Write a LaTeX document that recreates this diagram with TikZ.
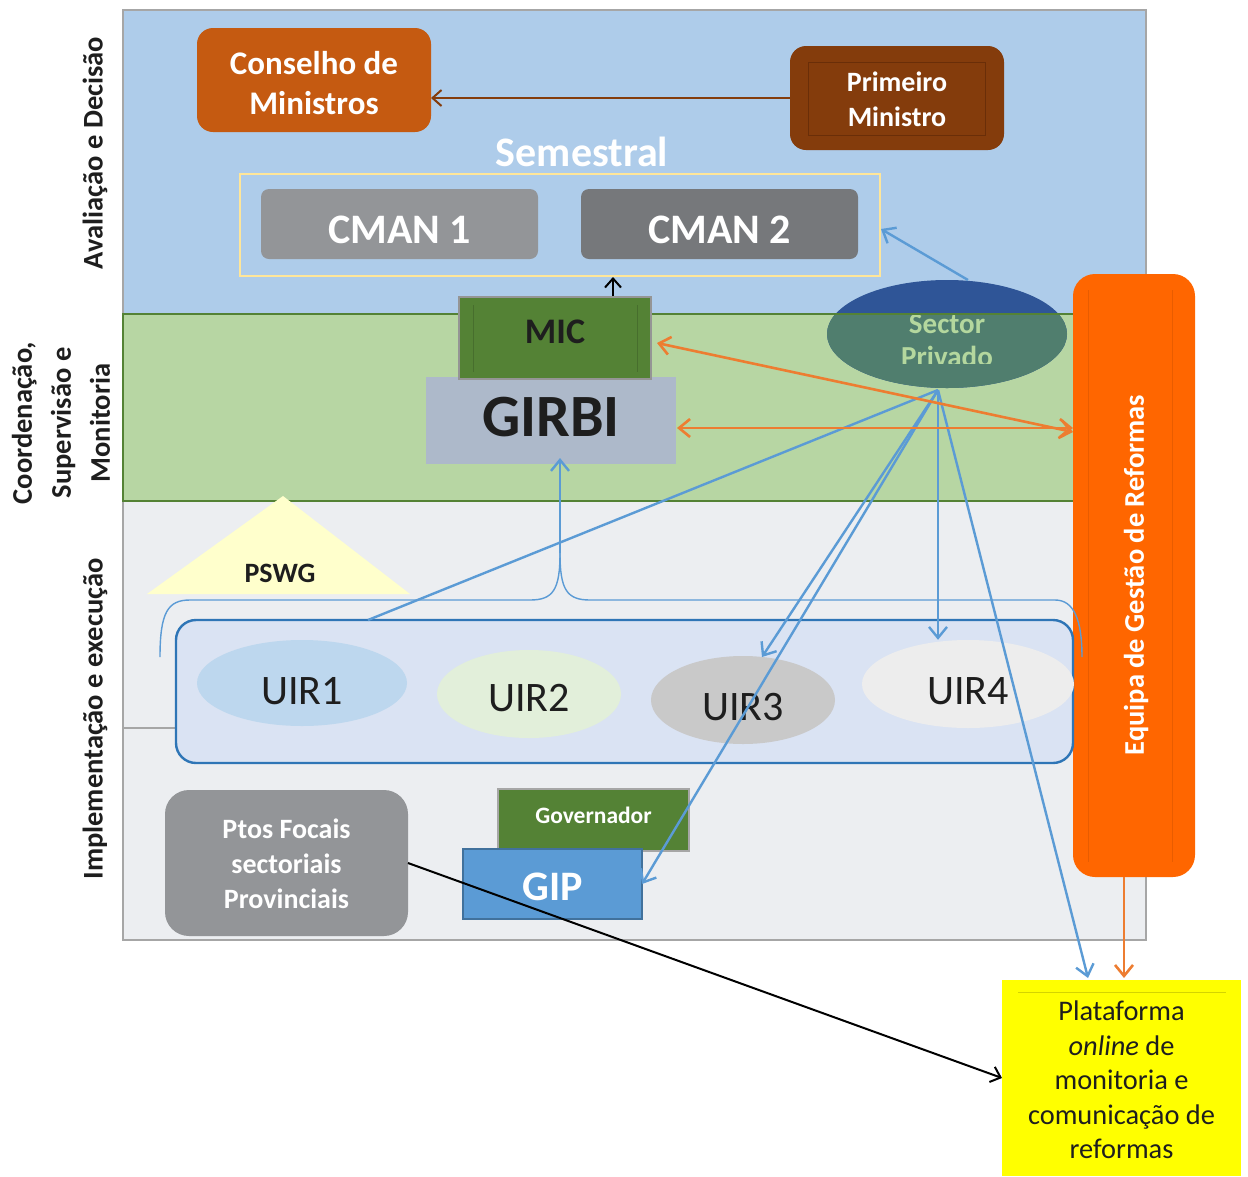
\documentclass[tikz,border=0pt]{standalone}
\usepackage{fontspec}
\setmainfont{Carlito}
\usetikzlibrary{shapes.geometric,arrows.meta}
\definecolor{bandblue}{HTML}{AECCEA}
\definecolor{bandgreen}{HTML}{B7D6A3}
\definecolor{bandgray}{HTML}{ECEEF1}
\definecolor{framegray}{HTML}{A6A6A6}
\definecolor{darkgreen}{HTML}{548235}
\definecolor{consorange}{HTML}{C55A11}
\definecolor{pmbrown}{HTML}{843C0C}
\definecolor{pminner}{HTML}{6A2E08}
\definecolor{cmanone}{HTML}{939598}
\definecolor{cmantwo}{HTML}{76787B}
\definecolor{boxyellow}{HTML}{FFE699}
\definecolor{girbigray}{HTML}{ADB9CA}
\definecolor{spblue}{HTML}{2F5597}
\definecolor{spgreen}{HTML}{507E6E}
\definecolor{sptext}{HTML}{B4D79E}
\definecolor{eqorange}{HTML}{FF6600}
\definecolor{eqline}{HTML}{E85C00}
\definecolor{arrorange}{HTML}{ED7D31}
\definecolor{arrblue}{HTML}{5B9BD5}
\definecolor{uirfill}{HTML}{DAE3F3}
\definecolor{uirborder}{HTML}{2E75B6}
\definecolor{uironefill}{HTML}{BDD7EE}
\definecolor{uirtwofill}{HTML}{E2EFDA}
\definecolor{uirthreefill}{HTML}{C9C9C9}
\definecolor{uirfourfill}{HTML}{EDEDED}
\definecolor{pswgfill}{HTML}{FFFFCC}
\definecolor{ptosgray}{HTML}{939598}
\definecolor{gipblue}{HTML}{5B9BD5}
\definecolor{gipborder}{HTML}{41719C}
\definecolor{platyellow}{HTML}{FFFF00}
\definecolor{platline}{HTML}{D4D400}
\definecolor{textdark}{HTML}{1E1E1E}
\tikzset{
  box/.style={inner sep=0pt, outer sep=0pt, align=center},
  wbold/.style 2 args={text=white, font=\bfseries\fontsize{#1}{#2}\selectfont},
  dbold/.style 2 args={text=textdark, font=\bfseries\fontsize{#1}{#2}\selectfont},
  dreg/.style 2 args={text=textdark, font=\fontsize{#1}{#2}\selectfont},
  bluearrow/.style={draw=arrblue, line width=2.4pt, -{Straight Barb[length=11pt,width=18pt]}},
  blueline/.style={draw=arrblue, line width=2.4pt},
  orangearrow/.style={draw=arrorange, line width=2.6pt, {Straight Barb[length=11pt,width=18pt]}-{Straight Barb[length=11pt,width=18pt]}},
  orangeone/.style={draw=arrorange, line width=2.6pt, -{Straight Barb[length=11pt,width=18pt]}},
  blackarrow/.style={draw=black, line width=2pt, -{Straight Barb[length=9pt,width=16pt]}},
  sidelabel/.style={rotate=90, align=center, text=textdark, font=\bfseries\fontsize{28.5}{39}\selectfont},
}
\begin{document}
\begin{tikzpicture}[x=1pt,y=-1pt]
\useasboundingbox (0,0) rectangle (1248,1176);
% bands
\fill[bandblue] (123,10) rectangle (1146,314);
\fill[bandgreen] (123,314) rectangle (1146,501);
\fill[bandgray] (123,501) rectangle (1146,940);
\draw[framegray, line width=2pt] (123,10) rectangle (1146,940);
\draw[darkgreen, line width=2.4pt] (123,314) rectangle (1146,501);
\draw[framegray, line width=2pt] (123,728) -- (176,728);

% side labels
\node[sidelabel] (lab1) at (95,153) {Avaliação e Decisão};
\node[sidelabel] (lab2) at (61,423) {Coordenação,\\Supervisão e\\Monitoria};
\node[sidelabel] (lab3) at (95,719) {Implementação e execução};

% top nodes
\node[box, fill=consorange, rounded corners=16pt, minimum width=234pt, minimum height=104pt] (cons) at (314,80) {};
\node[box, wbold={33}{40}] (conslabel) at (314,83) {Conselho de\\Ministros};
\node[box, fill=pmbrown, rounded corners=16pt, minimum width=214pt, minimum height=104pt] (pm) at (897,98) {};
\draw[pminner, line width=0.8pt] (808,62) rectangle (985,135);
\node[box, wbold={28}{35}] (pmlabel) at (897,99) {Primeiro\\Ministro};
\draw[draw=pmbrown, line width=2pt, -{Straight Barb[length=9pt,width=16pt]}] (pm.west) -- (cons.east |- pm.west);

\node[box, wbold={42}{48}] (sem) at (582,152) {Semestral};
\node[box, draw=boxyellow, line width=2pt, minimum width=640pt, minimum height=102pt] (cmanbox) at (560,225) {};
\node[box, fill=cmanone, rounded corners=8pt, minimum width=277pt, minimum height=70pt] (cman1) at (399.5,224) {};
\node[box, wbold={42}{48}] (cman1label) at (399.5,230) {CMAN 1};
\node[box, fill=cmantwo, rounded corners=8pt, minimum width=277pt, minimum height=70pt] (cman2) at (719.5,224) {};
\node[box, wbold={42}{48}] (cman2label) at (719.5,230) {CMAN 2};

% GIRBI / MIC
\node[box, fill=girbigray, minimum width=250pt, minimum height=87pt] (girbi) at (551,420.5) {};
\node[box, dbold={60}{66}] (girbilabel) at (551,417) {GIRBI};
\node[box, fill=darkgreen, draw=framegray!90!black, line width=2.4pt, minimum width=192pt, minimum height=82pt] (mic) at (555,338) {};
\draw[darkgreen!85!black, line width=0.6pt] (473,305) -- (473,372) (637,305) -- (637,372);
\node[box, dbold={36}{42}] (miclabel) at (555,332) {MIC};
\coordinate (mictop) at (613,296);
\coordinate (cmanbot) at (613,277);
\draw[blackarrow] (mictop) -- (cmanbot);

% Sector Privado
\node[ellipse, fill=spblue, minimum width=240pt, minimum height=108pt, inner sep=0pt] (sp) at (947,334) {};
\begin{scope}
  \clip (800,314) rectangle (1100,400);
  \node[ellipse, fill=spgreen, minimum width=240pt, minimum height=108pt, inner sep=0pt] (sptwo) at (947,334) {};
\end{scope}
\begin{scope}
  \clip (800,280) rectangle (1100,363);
  \node[box, text=sptext, font=\bfseries\fontsize{29}{33}\selectfont] (splabel) at (947,341) {Sector\\Privado};
\end{scope}
\draw[darkgreen, line width=2.4pt] (827,314) -- (1073,314);

% Equipa
\node[box, fill=eqorange, rounded corners=22pt, minimum width=122pt, minimum height=603pt] (equipa) at (1134,575.5) {};
\draw[eqline, line width=0.7pt] (1088,290) -- (1088,862) (1172,290) -- (1172,862);
\node[box, rotate=90, wbold={28.5}{32}] (eqlabel) at (1136,575) {Equipa de Gestão de Reformas};

% PSWG
\fill[pswgfill] (147,594) -- (283,496) -- (410,594) -- cycle;
\node[box, dbold={28}{32}] (pswg) at (280,573) {PSWG};

% UIR
\node[box, fill=uirfill, draw=uirborder, line width=2.4pt, rounded corners=20pt, minimum width=897pt, minimum height=143pt] (uirbox) at (624.5,691.5) {};
\node[ellipse, inner sep=0pt, fill=uironefill, minimum width=210pt, minimum height=86pt] (uir1) at (302,683) {};
\node[box, dreg={42}{46}] (uir1t) at (302,691) {UIR1};
\node[ellipse, inner sep=0pt, fill=uirtwofill, minimum width=184pt, minimum height=88pt] (uir2) at (529,694) {};
\node[box, dreg={42}{46}] (uir2t) at (529,698) {UIR2};
\node[ellipse, inner sep=0pt, fill=uirthreefill, minimum width=184pt, minimum height=88pt] (uir3) at (743,700) {};
\node[box, dreg={42}{46}] (uir3t) at (743,707) {UIR3};
\node[ellipse, inner sep=0pt, fill=uirfourfill, minimum width=212pt, minimum height=88pt] (uir4) at (968,684) {};
\node[box, dreg={42}{46}] (uir4t) at (968,691) {UIR4};

% brace
\coordinate (bracetip) at (560,553);
\coordinate (girbibot) at (560,458);
\draw[arrblue, line width=1.4pt] (160,657) .. controls (160,612) and (168,600) .. (190,600) -- (530,600) .. controls (553,600) and (560,590) .. (bracetip);
\draw[arrblue, line width=1.4pt] (bracetip) .. controls (560,590) and (567,600) .. (590,600) -- (1055,600) .. controls (1074,600) and (1082,620) .. (1082,657);
\draw[bluearrow] (bracetip) -- (girbibot);

% bottom nodes
\node[box, fill=ptosgray, rounded corners=24pt, minimum width=243pt, minimum height=146pt] (ptos) at (286.5,863) {};
\node[box, wbold={28}{35}] (ptoslabel) at (286.5,864) {Ptos Focais\\sectoriais\\Provinciais};
\node[box, fill=darkgreen, draw=framegray, line width=2.4pt, minimum width=191pt, minimum height=62pt] (gov) at (593.5,820) {};
\node[box, wbold={23.5}{26}] (govlabel) at (593.5,815) {Governador};
\node[box, fill=gipblue, draw=gipborder, line width=2pt, minimum width=179pt, minimum height=70pt] (gip) at (552.5,884) {};
\node[box, wbold={42}{46}] (giplabel) at (552.5,887) {GIP};

% Plataforma
\node[box, fill=platyellow, minimum width=239pt, minimum height=196pt] (plat) at (1121.5,1078) {};
\draw[platline, line width=0.8pt] (1018,992) -- (1226,992);
\node[box, text=textdark, font=\fontsize{28.4}{34.5}\selectfont] (plattext) at (1121.5,1080) {Plataforma\\\textit{online} de\\monitoria e\\comunicação de\\reformas};

% connectors
\coordinate (spb) at (938,390);
\coordinate (sptop) at (968,280);
\coordinate (cmanright) at (881,229);
\coordinate (uirtop) at (368,620);
\coordinate (uirthreetip) at (762,657);
\coordinate (platin) at (1088,978);
\coordinate (eqin) at (1073,432);
\coordinate (eqintwo) at (1073,428);
\coordinate (micright) at (657,343);
\coordinate (girbiright) at (677,428);
\coordinate (eqbot) at (1124,877);
\coordinate (plattop) at (1124,978);

\draw[bluearrow] (sptop) -- (cmanright);
\draw[blueline] (spb) -- (uirtop);
\draw[bluearrow] (spb) -- (uirthreetip);
\draw[bluearrow] (spb) -- (gip.east);
\draw[bluearrow] (spb) -- (spb |- uir4.north);
\draw[bluearrow] (spb) -- (platin);

\draw[orangearrow] (micright) -- (eqin);
\draw[orangearrow] (girbiright) -- (eqintwo);
\draw[orangeone] (eqbot) -- (plattop);

\draw[blackarrow] (ptos.east) -- (plat.west);
\end{tikzpicture}
\end{document}
